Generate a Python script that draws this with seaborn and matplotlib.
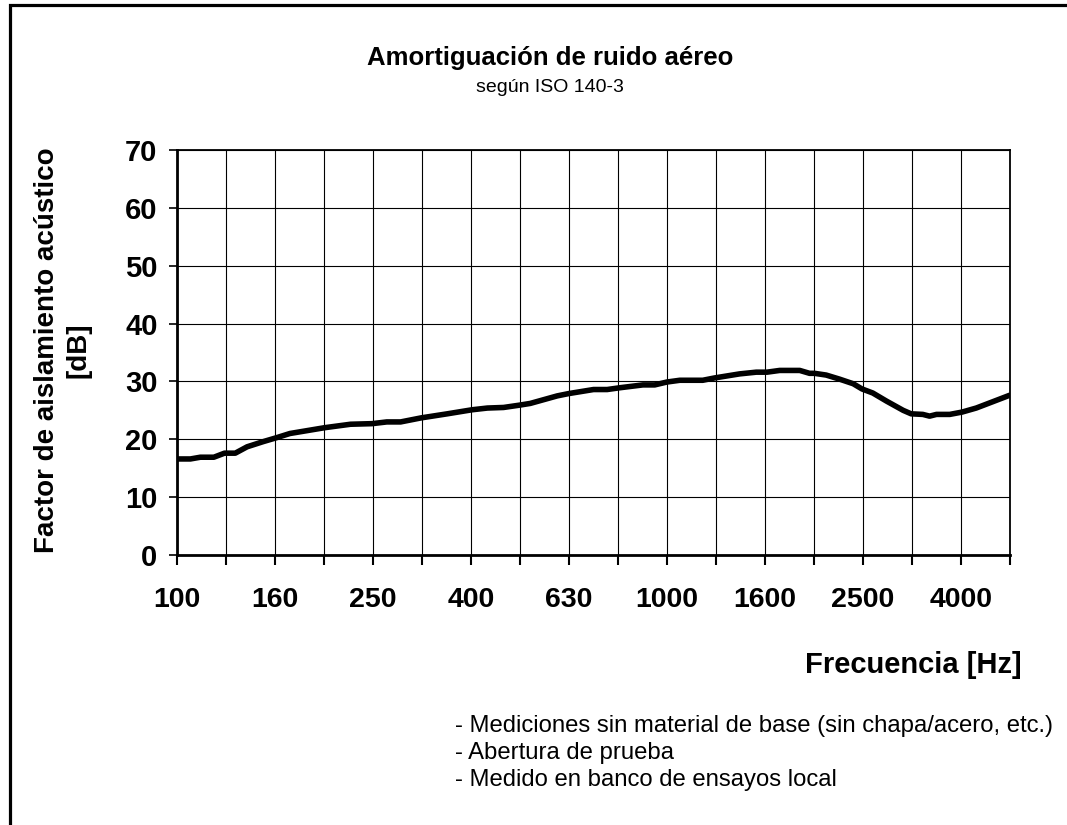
import numpy as np
import pandas as pd
import matplotlib
matplotlib.use("Agg")
import matplotlib.pyplot as plt
from matplotlib.ticker import NullLocator, FixedLocator
from matplotlib.patches import Rectangle
import seaborn as sns

# ---- data ----
freq_hz = [100, 106.5, 111.6, 118.9, 125, 131.5, 139, 150, 160, 170, 200, 226, 250,
           268, 286, 315, 356, 400, 430, 464, 500, 526, 597, 630, 708, 755, 800,
           893, 944, 1000, 1062, 1183, 1250, 1406, 1521, 1600, 1698, 1866, 1954,
           2000, 2113, 2249, 2399, 2500, 2630, 2805, 3034, 3150, 3327, 3435, 3548,
           3776, 4000, 4276, 4624, 5000]
insulation_db = [16.6, 16.6, 16.9, 16.9, 17.6, 17.6, 18.7, 19.6, 20.3, 21.0, 22.0, 22.6, 22.7,
                 23.0, 23.0, 23.7, 24.4, 25.1, 25.4, 25.5, 25.9, 26.2, 27.5, 27.9, 28.6, 28.6, 28.9,
                 29.4, 29.4, 29.9, 30.2, 30.2, 30.6, 31.3, 31.6, 31.6, 31.9, 31.9, 31.4,
                 31.4, 31.1, 30.4, 29.6, 28.7, 28.0, 26.6, 25.0, 24.4, 24.3, 24.0, 24.3,
                 24.3, 24.7, 25.4, 26.5, 27.6]
band_labels = ["100", "125", "160", "200", "250", "315", "400", "500", "630", "800",
               "1000", "1250", "1600", "2000", "2500", "3150", "4000", "5000"]
labelled_bands = ["100", "160", "250", "400", "630", "1000", "1600", "2500", "4000"]
y_ticks = [0, 10, 20, 30, 40, 50, 60, 70]

title = "Amortiguación de ruido aéreo"
subtitle = "según ISO 140-3"
x_label = "Frecuencia [Hz]"
y_label = "Factor de aislamiento acústico\n[dB]"
notes = ["- Mediciones sin material de base (sin chapa/acero, etc.)",
         "- Abertura de prueba",
         "- Medido en banco de ensayos local"]

sns.set_style("white")
plt.rcParams['font.family'] = ['Liberation Sans', 'DejaVu Sans']
plt.rcParams['text.color'] = 'black'
plt.rcParams['xtick.color'] = 'black'
plt.rcParams['ytick.color'] = 'black'
plt.rcParams['xtick.labelcolor'] = 'black'
plt.rcParams['ytick.labelcolor'] = 'black'

W, H = 1067, 825
fig = plt.figure(figsize=(W / 100, H / 100), dpi=100)
ax = fig.add_axes([177 / W, 1 - 555 / H, 833 / W, 405 / H])

df = pd.DataFrame({"freq": freq_hz, "R": insulation_db})
sns.lineplot(data=df, x="freq", y="R", ax=ax, color="black", linewidth=4,
             estimator=None, sort=False, solid_capstyle="round", zorder=5)

ax.set_xscale("log")
band_pos = [100 * 10 ** (i / 10) for i in range(len(band_labels))]
ax.xaxis.set_major_locator(FixedLocator(band_pos))
ax.xaxis.set_minor_locator(NullLocator())
ax.set_xticklabels([b if b in labelled_bands else "" for b in band_labels])
ax.set_xlim(band_pos[0], band_pos[-1])
ax.set_ylim(y_ticks[0], y_ticks[-1])
ax.set_yticks(y_ticks)

ax.grid(True, which="major", color="black", linewidth=0.8)
ax.set_axisbelow(True)
for side in ["left", "bottom"]:
    ax.spines[side].set_linewidth(2.0)
for side in ["top", "right"]:
    ax.spines[side].set_linewidth(1.3)
for s in ax.spines.values():
    s.set_color("black")

ax.tick_params(axis="x", which="major", direction="out", length=7, width=1.5,
               bottom=True, pad=16, labelsize=20.5, colors="black")
ax.tick_params(axis="y", which="major", direction="out", length=6, width=1.2,
               left=True, pad=8, labelsize=21, colors="black")
for lab in ax.get_xticklabels() + ax.get_yticklabels():
    lab.set_fontweight("bold")
ax.set_xlabel("")
ax.set_ylabel("")

fig.text(550 / W, 1 - 58 / H, title, ha="center", va="center", fontsize=18.5,
         fontweight="bold", color="black")
fig.text(550 / W, 1 - 87 / H, subtitle, ha="center", va="center", fontsize=14, color="black")
fig.text(1022 / W, 1 - 665 / H, x_label, ha="right", va="center", fontsize=21,
         fontweight="bold", color="black")
fig.text(63 / W, 1 - 350 / H, y_label, ha="center", va="center", rotation=90,
         fontsize=20, fontweight="bold", multialignment="center", linespacing=1.25,
         color="black")
for i, n in enumerate(notes):
    fig.text(455 / W, 1 - (726 + 27 * i) / H, n, ha="left", va="center", fontsize=17.2,
             color="black")

fig.patches.append(Rectangle((9.5 / W, -0.5), 2.0, 0.5 + 1 - 4.5 / H, transform=fig.transFigure,
                             fill=False, edgecolor="black", linewidth=2.3, clip_on=False))

fig.savefig("out.png", dpi=100)
